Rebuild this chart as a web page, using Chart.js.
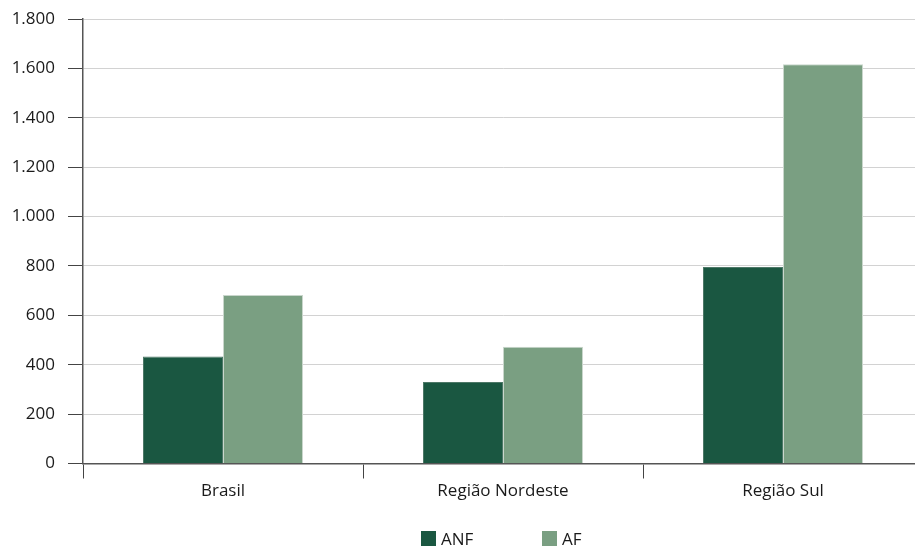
<!DOCTYPE html>
<html>
<head>
<meta charset="utf-8">
<script src="https://cdn.jsdelivr.net/npm/chart.js@4.4.1/dist/chart.umd.min.js"></script>
<style>
  html, body { margin: 0; padding: 0; background: #ffffff; overflow: hidden; }
  #wrap { width: 915px; height: 547px; position: relative; overflow: hidden; }
</style>
</head>
<body>
<div id="wrap"><canvas id="c" width="923" height="547"></canvas></div>
<script>
const categories = ["Brasil", "Região Nordeste", "Região Sul"];
const seriesNames = ["ANF", "AF"];
const anfValues = [433, 330, 796];
const afValues = [682, 473, 1617];
const yTicks = [0, 200, 400, 600, 800, 1000, 1200, 1400, 1600, 1800];

const FONT = "'Open Sans', 'Noto Sans', sans-serif";
const FSIZE = 17;
const fmt = v => String(v).replace(/\B(?=(\d{3})+(?!\d))/g, ".");

// Legend drawn on the canvas from the chart's own datasets
const bottomLegend = {
  id: "bottomLegend",
  afterDraw(chart) {
    const ctx = chart.ctx;
    const xs = [421, 542];
    const y = 531;
    ctx.save();
    ctx.font = FSIZE + "px " + FONT;
    ctx.textBaseline = "middle";
    ctx.textAlign = "left";
    chart.data.datasets.forEach((ds, i) => {
      ctx.fillStyle = ds.backgroundColor;
      ctx.fillRect(xs[i], y, 15, 15);
      ctx.fillStyle = "#1a1a1a";
      ctx.fillText(ds.label, xs[i] + 20, y + 9);
    });
    ctx.restore();
  }
};

new Chart(document.getElementById("c"), {
  type: "bar",
  data: {
    labels: categories,
    datasets: [
      { label: seriesNames[0], data: anfValues, backgroundColor: "#1a5741", borderColor: "#4d7867", borderWidth: 1 },
      { label: seriesNames[1], data: afValues, backgroundColor: "#7a9f82", borderColor: "#c9d6cc", borderWidth: 1 }
    ]
  },
  plugins: [bottomLegend],
  options: {
    responsive: false,
    animation: false,
    devicePixelRatio: 1,
    layout: { padding: { top: 19, right: 0, left: 0, bottom: 0 } },
    datasets: { bar: { barPercentage: 1.0, categoryPercentage: 0.5714 } },
    plugins: {
      legend: { display: false },
      tooltip: { enabled: false }
    },
    scales: {
      x: {
        afterFit: s => { s.height = 83.5; },
        grid: { display: true, drawOnChartArea: false, drawTicks: true, tickLength: 15, tickColor: "#444444", offset: true },
        border: { display: true, color: "#555555", width: 1.5 },
        ticks: { font: { family: FONT, size: FSIZE }, color: "#1a1a1a", padding: 2 }
      },
      y: {
        min: 0,
        max: 1800,
        afterBuildTicks: s => { s.ticks = yTicks.map(v => ({ value: v })); },
        afterFit: s => { s.width = 83; s.paddingTop = 0; s.paddingBottom = 0; },
        grid: { color: "#d2d2d2", lineWidth: 1, tickLength: 15, tickColor: "#444444" },
        border: { display: true, color: "#555555", width: 1.5 },
        ticks: { font: { family: FONT, size: FSIZE }, color: "#1a1a1a", padding: 13, callback: v => fmt(v) }
      }
    }
  }
});
</script>
</body>
</html>
